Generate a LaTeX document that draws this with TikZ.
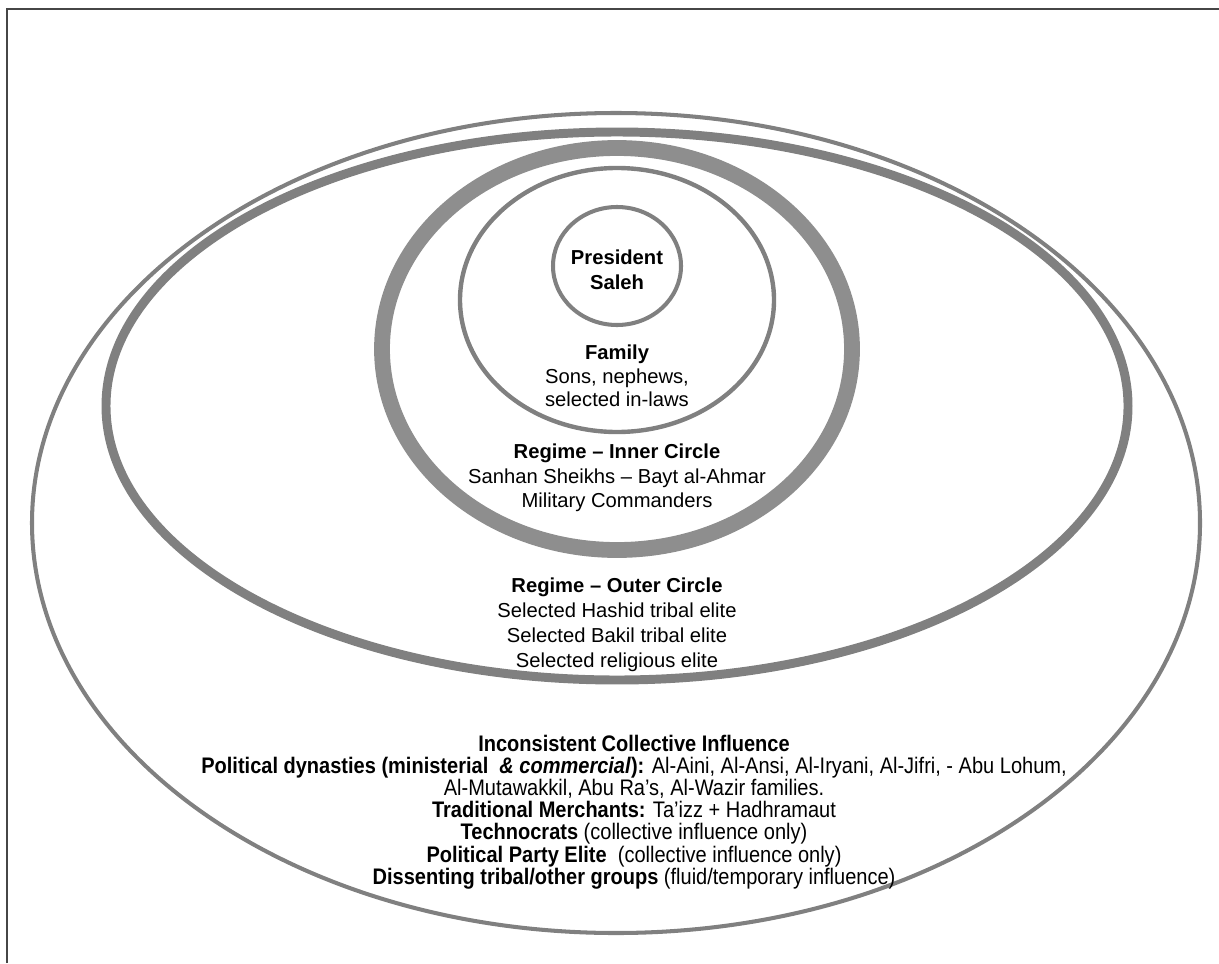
\documentclass[tikz,border=0pt]{standalone}
\usepackage{fontspec}
\setmainfont{Liberation Sans}
\newfontfamily\narrowfont[FakeStretch=0.89]{Liberation Sans}
\definecolor{ringgray}{RGB}{128,128,128}
\definecolor{bandgray}{RGB}{142,142,142}
\definecolor{framegray}{RGB}{70,70,70}
\begin{document}
\begin{tikzpicture}[x=0.02cm, y=-0.02cm,
    ring/.style={draw=ringgray},
    circlabel/.style={align=center, inner sep=0pt, font=\fontsize{11.5}{13.5}\selectfont},
    lowlabel/.style={align=center, inner sep=0pt, font=\narrowfont\fontsize{12.8}{12.6}\selectfont}]
    \useasboundingbox (0,0) rectangle (1219,963);
    %% frame
    \draw[framegray, line width=1.1pt] (7,963) -- (7,9) -- (1219,9);

    %% rings, outside in
    \draw[ring, line width=2.3pt] (616,523) ellipse [x radius=584, y radius=410];
    \draw[ring, line width=5.1pt] (617,406) ellipse [x radius=511, y radius=274];
    \draw[draw=bandgray, line width=9pt] (617,349) ellipse [x radius=235, y radius=201];
    \draw[ring, line width=2.5pt] (617,300) ellipse [x radius=157, y radius=132];
    \draw[ring, line width=2.3pt] (617,266) ellipse [x radius=64, y radius=59];

    %% labels
    \node[circlabel, font=\bfseries\fontsize{11.5}{14.2}\selectfont] (pres) at (617,270)
        {President\\Saleh};
    \node[circlabel] (family) at (617,376)
        {\textbf{Family}\\Sons, nephews,\\selected in-laws};
    \node[circlabel, font=\fontsize{11.5}{13.9}\selectfont] (inner) at (617,478)
        {\textbf{Regime -- Inner Circle}\\Sanhan Sheikhs -- Bayt al-Ahmar\\Military Commanders};
    \node[circlabel, font=\fontsize{11.5}{14.2}\selectfont] (outer) at (617,625)
        {\textbf{Regime -- Outer Circle}\\Selected Hashid tribal elite\\Selected Bakil tribal elite\\Selected religious elite};
    \node[lowlabel] (collective) at (634,812)
        {\textbf{Inconsistent Collective Influence}\\
         \textbf{Political dynasties (ministerial \ \textit{\& commercial}):} Al-Aini, Al-Ansi, Al-Iryani, Al-Jifri, - Abu Lohum,\\
         Al-Mutawakkil, Abu Ra’s, Al-Wazir families.\\
         \textbf{Traditional Merchants:} Ta’izz + Hadhramaut\\
         \textbf{Technocrats} (collective influence only)\\
         \textbf{Political Party Elite} \ (collective influence only)\\
         \textbf{Dissenting tribal/other groups} (fluid/temporary influence)};
\end{tikzpicture}
\end{document}
